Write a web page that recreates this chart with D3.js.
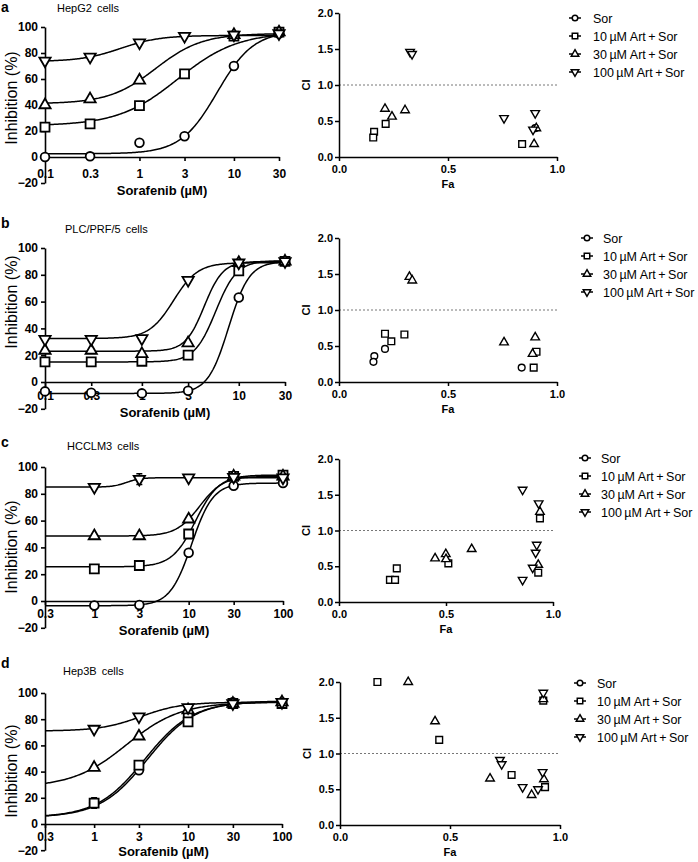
<!DOCTYPE html>
<html>
<head>
<meta charset="utf-8">
<script src="https://cdn.jsdelivr.net/npm/d3@7"></script>
<style>
  body { margin: 0; background: #fff; }
  svg { font-family: Arial, "Liberation Sans", sans-serif; }
</style>
</head>
<body>
<svg id="fig" width="698" height="862"></svg>
<script>
// Series (same in every panel)
const seriesNames = ['Sor', '10\u2009µM Art\u2009+\u2009Sor', '30\u2009µM Art\u2009+\u2009Sor', '100\u2009µM Art\u2009+\u2009Sor'];

// Tick values
const ticksAB = [0.1, 0.3, 1, 3, 10, 30];
const ticksCD = [0.3, 1, 3, 10, 30, 100];
const inhTicks = [-20, 0, 20, 40, 60, 80, 100];
const ciTicks = [0, 0.5, 1, 1.5, 2];
const faTicks = [0, 0.5, 1];

// a - HepG2
const doseA = [0.1, 0.3, 1, 3, 10, 30];
const inhA = [
  [0, 0.5, 11, 16, 70, 95],
  [23, 25.5, 39.5, 64, 93, 96],
  [40, 44.5, 59, null, 94, 96],
  [74, 77, 88, 93, 94, 95]
];
const errA = [];
// fitted curves: bottom, top, EC50, hill
const fitA = [[2.5, 97, 6.65, 2.25], [24, 96, 2.55, 1.38], [41, 95, 1.48, 1.77], [73.5, 93.5, 0.63, 2.09]];
// CI plot: [Fa, CI]
const ciA = [
  [[0.9, 0.40]],
  [[0.161, 0.35], [0.157, 0.27], [0.214, 0.46], [0.84, 0.18]],
  [[0.211, 0.67], [0.243, 0.56], [0.303, 0.65], [0.895, 0.18], [0.905, 0.40]],
  [[0.326, 1.46], [0.335, 1.43], [0.757, 0.54], [0.90, 0.61], [0.89, 0.38]]
];

// b - PLC/PRF/5
const doseB = [0.1, 0.3, 1, 3, 10, 30];
const inhB = [
  [-7, -8, -8.5, -6.5, 63, 90],
  [15, 15, 15.5, 20, 83, 90],
  [23.5, 23.5, 21, 29, 89, 90],
  [32, 32, 32.5, 76, 89, 90]
];
const errB = [];
const fitB = [[-8.5, 90, 7.86, 4.06], [15, 90.5, 5.78, 4.0], [23, 90, 4.4, 4.5], [32.5, 89, 2.12, 3.47]];
const ciB = [
  [[0.162, 0.36], [0.158, 0.28], [0.211, 0.46], [0.838, 0.2]],
  [[0.211, 0.67], [0.24, 0.565], [0.30, 0.66], [0.893, 0.2], [0.906, 0.42]],
  [[0.323, 1.46], [0.336, 1.41], [0.757, 0.55], [0.90, 0.62], [0.888, 0.39]],
  []
];

// c - HCCLM3
const doseC = [1, 3, 10, 30, 100];
const inhC = [
  [-3.3, -3, 36, 86, 88],
  [24, 26.5, 50, 93, 94],
  [48.5, 48.5, 61, 93, 93],
  [85, 91, 92, 92.5, 92]
];
const errC = [[3, 3, 4]]; // series, dose, +/- SD
const fitC = [[-3.5, 88, 10.74, 3.82], [25.5, 94, 11.83, 3.5], [48.5, 93, 13.08, 3.5], [85, 92, 2.2, 6]];
const ciC = [
  [],
  [[0.939, 1.17], [0.238, 0.31], [0.262, 0.31], [0.27, 0.47], [0.511, 0.54], [0.931, 0.41]],
  [[0.939, 1.26], [0.449, 0.61], [0.499, 0.67], [0.62, 0.74], [0.931, 0.52], [0.5, 0.6]],
  [[0.858, 1.57], [0.933, 1.38], [0.924, 0.80], [0.919, 0.69], [0.905, 0.48], [0.858, 0.31]]
];

// d - Hep3B
const doseD = [1, 3, 10, 30, 100];
const inhD = [
  [16, 41, 83, 93, 93],
  [16, 45, 78, 92, 92],
  [43, 67, 87, 92, 93],
  [72.5, 82, 89, 92, 93]
];
const errD = [[0, 1, 4]];
const fitD = [[5, 94, 3.7, 1.71], [5, 93.5, 3.45, 1.71], [28, 93, 2.21, 1.515], [71, 93, 3.15, 2.01]];
const ciD = [
  [],
  [[0.17, 2.0], [0.451, 1.19], [0.78, 0.70], [0.932, 0.53], [0.924, 1.74]],
  [[0.31, 2.0], [0.432, 1.45], [0.682, 0.65], [0.871, 0.42], [0.927, 0.64], [0.924, 1.76]],
  [[0.727, 0.91], [0.735, 0.85], [0.83, 0.53], [0.90, 0.50], [0.921, 0.74], [0.924, 1.85]]
];

// panel placement (pixels)
const panels = [
  { letter: 'a', title: 'HepG2 cells', dose: doseA, inh: inhA, err: errA, fit: fitA, ci: ciA, ticks: ticksAB,
    L: { letterY: 12, titleX: 57, titleY: 12, lx: [45, 279], ly: [157, 27], ylabY: 98, xlabY: 195, tickPad: 8,
         cx: [339, 557], cy: [157, 13], legX: 575, legTX: 593, legY: 18 } },
  { letter: 'b', title: 'PLC/PRF/5 cells', dose: doseB, inh: inhB, err: errB, fit: fitB, ci: ciB, ticks: ticksAB,
    L: { letterY: 228, titleX: 65, titleY: 233, lx: [45, 285], ly: [382, 248], ylabY: 302, xlabY: 417, tickPad: 5.5,
         cx: [339, 557], cy: [382, 238], legX: 587, legTX: 603, legY: 238 } },
  { letter: 'c', title: 'HCCLM3 cells', dose: doseC, inh: inhC, err: errC, fit: fitC, ci: ciC, ticks: ticksCD,
    L: { letterY: 447, titleX: 67, titleY: 450, lx: [45, 283], ly: [601, 467], ylabY: 547, xlabY: 635, tickPad: 4.5,
         cx: [339, 553], cy: [602, 459], legX: 585, legTX: 601, legY: 458 } },
  { letter: 'd', title: 'Hep3B cells', dose: doseD, inh: inhD, err: errD, fit: fitD, ci: ciD, ticks: ticksCD,
    L: { letterY: 668, titleX: 63, titleY: 675, lx: [45, 282], ly: [824, 693], ylabY: 771, xlabY: 856, tickPad: 4.5,
         cx: [340, 560], cy: [825, 682], legX: 580, legTX: 597, legY: 683 } }
];

const svg = d3.select('#fig');
const symTypes = [d3.symbolCircle, d3.symbolSquare, d3.symbolTriangle, d3.symbolTriangle];

function marker(g, k, size, sw) {
  g.append('path')
    .attr('d', d3.symbol().type(symTypes[k]).size(size)())
    .attr('transform', k === 3 ? 'rotate(180)' : null)
    .attr('fill', '#fff')
    .attr('stroke', '#000')
    .attr('stroke-width', sw);
}

function styleAxis(g, fs, sw) {
  g.selectAll('path, line').attr('stroke', '#000').attr('stroke-width', sw);
  g.selectAll('text').attr('font-size', fs).attr('font-weight', 'bold')
    .attr('font-family', 'Arial, "Liberation Sans", sans-serif').attr('fill', '#000');
  g.attr('font-size', null).attr('font-family', null);
}

function logistic(f, x) {
  return f[0] + (f[1] - f[0]) / (1 + Math.pow(f[2] / x, f[3]));
}

panels.forEach(p => {
  const L = p.L;
  const x = d3.scaleLog().domain([p.ticks[0], p.ticks[p.ticks.length - 1]]).range(L.lx);
  const y = d3.scaleLinear().domain([0, 100]).range(L.ly);
  const yAx = d3.scaleLinear().domain([-20, 100]).range([y(-20), y(100)]);

  svg.append('text').attr('x', 1).attr('y', L.letterY)
    .attr('font-size', 14).attr('font-weight', 'bold').text(p.letter);
  svg.append('text').attr('x', L.titleX).attr('y', L.titleY)
    .attr('font-size', 11).attr('word-spacing', 2).text(p.title);

  // dose-response axes
  const gy = svg.append('g').attr('transform', `translate(${L.lx[0]},0)`)
    .call(d3.axisLeft(yAx).tickValues(inhTicks).tickSize(4).tickSizeOuter(0).tickPadding(3));
  styleAxis(gy, 12, 1.6);
  const gx = svg.append('g').attr('transform', `translate(0,${y(0)})`)
    .call(d3.axisBottom(x).tickValues(p.ticks).tickFormat(d => String(d)).tickSize(4).tickSizeOuter(0).tickPadding(L.tickPad));
  styleAxis(gx, 12, 1.6);

  svg.append('text')
    .attr('transform', `translate(17,${L.ylabY}) rotate(-90)`)
    .attr('text-anchor', 'middle').attr('font-size', 16).text('Inhibition (%)');
  svg.append('text')
    .attr('x', (L.lx[0] + L.lx[1]) / 2).attr('y', L.xlabY)
    .attr('text-anchor', 'middle').attr('font-size', 13).attr('font-weight', 'bold').text('Sorafenib (µM)');

  // fitted curves
  const lx0 = Math.log10(x.domain()[0]), lx1 = Math.log10(x.domain()[1]);
  const xs = d3.range(201).map(i => Math.pow(10, lx0 + (lx1 - lx0) * i / 200));
  const line = d3.line().x(d => x(d[0])).y(d => y(d[1]));
  p.fit.forEach(f => {
    svg.append('path').attr('d', line(xs.map(v => [v, logistic(f, v)])))
      .attr('fill', 'none').attr('stroke', '#000').attr('stroke-width', 1.5);
  });

  // error bars
  p.err.forEach(e => {
    const k = e[0], xi = p.dose.indexOf(e[1]), v = p.inh[k][xi];
    const px = x(e[1]);
    svg.append('path')
      .attr('d', `M${px},${y(v - e[2])}V${y(v + e[2])}M${px - 3},${y(v - e[2])}h6M${px - 3},${y(v + e[2])}h6`)
      .attr('stroke', '#000').attr('stroke-width', 1.5).attr('fill', 'none');
  });

  // points
  const sizesL = [60, 81, 55, 55];
  p.inh.forEach((vals, k) => {
    vals.forEach((v, i) => {
      if (v === null) return;
      const g = svg.append('g').attr('transform', `translate(${x(p.dose[i])},${y(v)})`);
      marker(g, k, sizesL[k], 1.8);
    });
  });

  // CI plot
  const xc = d3.scaleLinear().domain([0, 1]).range(L.cx);
  const yc = d3.scaleLinear().domain([0, 2]).range(L.cy);
  svg.append('line')
    .attr('x1', xc(0)).attr('x2', xc(1)).attr('y1', yc(1)).attr('y2', yc(1))
    .attr('stroke', '#777').attr('stroke-width', 1).attr('stroke-dasharray', '2,2');
  const gcy = svg.append('g').attr('transform', `translate(${xc(0)},0)`)
    .call(d3.axisLeft(yc).tickValues(ciTicks).tickFormat(d3.format('.1f')).tickSize(4).tickSizeOuter(0).tickPadding(2));
  styleAxis(gcy, 11, 1.5);
  const gcx = svg.append('g').attr('transform', `translate(0,${yc(0)})`)
    .call(d3.axisBottom(xc).tickValues(faTicks).tickFormat(d3.format('.1f')).tickSize(4).tickSizeOuter(0).tickPadding(4));
  styleAxis(gcx, 11, 1.5);
  svg.append('text')
    .attr('transform', `translate(${xc(0) - 29},${yc(1)}) rotate(-90)`)
    .attr('text-anchor', 'middle').attr('font-size', 11).attr('font-weight', 'bold').text('CI');
  svg.append('text')
    .attr('x', xc(0.5)).attr('y', yc(0) + 31)
    .attr('text-anchor', 'middle').attr('font-size', 11).attr('font-weight', 'bold').text('Fa');

  const sizesC = [36, 45, 32, 32];
  p.ci.forEach((pts, k) => {
    pts.forEach(d => {
      const g = svg.append('g').attr('transform', `translate(${xc(d[0])},${yc(d[1])})`);
      marker(g, k, sizesC[k], 1.4);
    });
  });

  // legend
  seriesNames.forEach((name, k) => {
    const ly = L.legY + k * 18;
    svg.append('line').attr('x1', L.legX - 6).attr('x2', L.legX + 6).attr('y1', ly).attr('y2', ly)
      .attr('stroke', '#000').attr('stroke-width', 1.5);
    const g = svg.append('g').attr('transform', `translate(${L.legX},${ly})`);
    marker(g, k, [24, 30, 24, 24][k], 1.5);
    svg.append('text').attr('x', L.legTX).attr('y', ly + 4.5)
      .attr('font-size', 12.5).text(name);
  });
});
</script>
</body>
</html>
